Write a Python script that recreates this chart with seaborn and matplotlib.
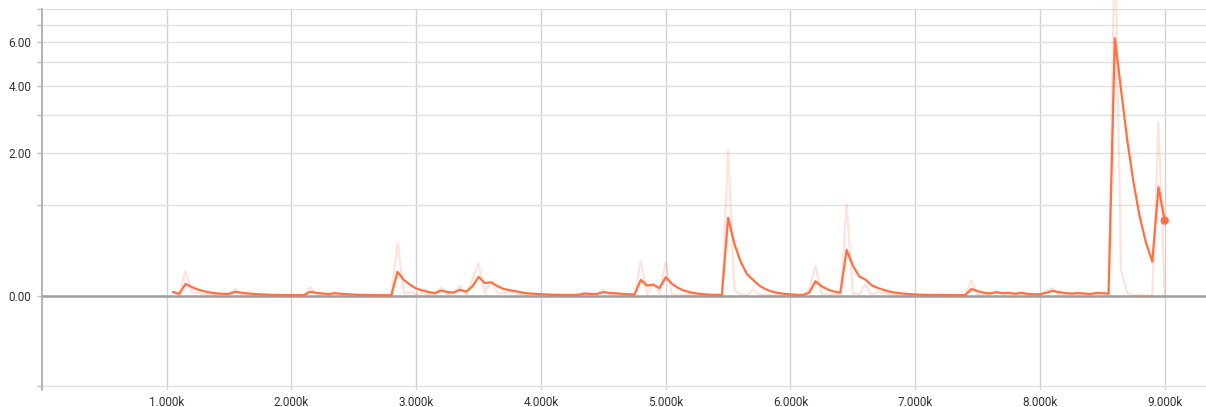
import numpy as np
import matplotlib
matplotlib.use("Agg")
import matplotlib.pyplot as plt
import seaborn as sns

# training steps, one point every 50 steps
steps = list(range(1050, 9001, 50))

# raw scalar values (pale line)
raw = [
    # 1050 - 1950
    0.03, 0.0, 0.21, 0.03, 0.02, 0.015, 0.01, 0.008, 0.01, 0.015,
    0.055, 0.01, 0.01, 0.008, 0.006, 0.005, 0.005, 0.004, 0.004,
    # 2000 - 2950
    0.004, 0.004, 0.005, 0.07, 0.01, 0.008, 0.01, 0.03, 0.008, 0.006,
    0.005, 0.005, 0.004, 0.004, 0.004, 0.004, 0.004, 0.50, 0.02, 0.03,
    # 3000 - 3950
    0.01, 0.02, 0.01, 0.01, 0.07, 0.01, 0.02, 0.08, 0.01, 0.14,
    0.28, 0.02, 0.12, 0.03, 0.02, 0.03, 0.02, 0.01, 0.01, 0.008,
    # 4000 - 4950
    0.008, 0.006, 0.006, 0.006, 0.005, 0.006, 0.01, 0.03, 0.01, 0.015,
    0.05, 0.01, 0.015, 0.01, 0.008, 0.006, 0.31, 0.01, 0.10, 0.02,
    # 5000 - 5950
    0.29, 0.01, 0.008, 0.006, 0.006, 0.005, 0.004, 0.004, 0.004, 0.004,
    2.04, 0.04, 0.01, 0.005, 0.05, 0.01, 0.005, 0.005, 0.005, 0.005,
    # 6000 - 6950
    0.005, 0.004, 0.004, 0.05, 0.26, 0.01, 0.01, 0.01, 0.01, 1.02,
    0.02, 0.01, 0.09, 0.01, 0.03, 0.02, 0.01, 0.01, 0.008, 0.006,
    # 7000 - 7950
    0.005, 0.005, 0.005, 0.006, 0.005, 0.005, 0.005, 0.005, 0.005, 0.125,
    0.01, 0.005, 0.01, 0.04, 0.01, 0.025, 0.008, 0.03, 0.005, 0.008,
    # 8000 - 9000
    0.01, 0.04, 0.06, 0.015, 0.01, 0.01, 0.025, 0.015, 0.008, 0.03,
    0.02, 0.01, 15.5, 0.21, 0.02, 0.005, 0.004, 0.004, 0.004, 2.79,
    0.0,
]

# smoothed values (solid line)
smoothed = [
    # 1050 - 1950
    0.03, 0.015, 0.095, 0.069, 0.049, 0.035, 0.025, 0.018, 0.015, 0.015,
    0.031, 0.023, 0.018, 0.014, 0.011, 0.009, 0.007, 0.006, 0.005,
    # 2000 - 2950
    0.005, 0.005, 0.005, 0.031, 0.023, 0.017, 0.014, 0.020, 0.015, 0.012,
    0.009, 0.007, 0.006, 0.005, 0.005, 0.004, 0.004, 0.202, 0.129, 0.089,
    # 3000 - 3950
    0.057, 0.042, 0.029, 0.021, 0.041, 0.029, 0.025, 0.047, 0.032, 0.075,
    0.157, 0.102, 0.109, 0.077, 0.054, 0.044, 0.035, 0.025, 0.019, 0.015,
    # 4000 - 4950
    0.012, 0.010, 0.008, 0.007, 0.006, 0.006, 0.008, 0.017, 0.014, 0.014,
    0.029, 0.021, 0.019, 0.015, 0.012, 0.010, 0.130, 0.082, 0.089, 0.061,
    # 5000 - 5950
    0.153, 0.096, 0.061, 0.039, 0.026, 0.018, 0.012, 0.009, 0.007, 0.006,
    0.82, 0.49, 0.30, 0.182, 0.130, 0.082, 0.052, 0.033, 0.022, 0.015,
    # 6000 - 6950
    0.011, 0.008, 0.006, 0.024, 0.118, 0.075, 0.049, 0.033, 0.024, 0.422,
    0.261, 0.161, 0.133, 0.084, 0.062, 0.045, 0.031, 0.023, 0.017, 0.013,
    # 7000 - 7950
    0.010, 0.008, 0.007, 0.007, 0.006, 0.006, 0.005, 0.005, 0.005, 0.053,
    0.036, 0.024, 0.018, 0.027, 0.020, 0.022, 0.016, 0.022, 0.015, 0.012,
    # 8000 - 9000
    0.011, 0.023, 0.038, 0.029, 0.021, 0.017, 0.020, 0.018, 0.014, 0.020,
    0.020, 0.016, 6.21, 3.85, 2.29, 1.38, 0.83, 0.50, 0.30, 1.30,
    0.78,
]

x_ticks = list(range(1000, 9001, 1000))
y_ticks = [-1, 0, 1, 2, 3, 4, 5, 6, 7, 8]
y_labeled = [0, 2, 4, 6]

line_color = "#ff7043"


def fwd(v):
    v = np.asarray(v, dtype=float)
    return np.sign(v) * np.log1p(np.abs(v))


def inv(v):
    v = np.asarray(v, dtype=float)
    return np.sign(v) * np.expm1(np.abs(v))


sns.set_theme(style="whitegrid")
plt.rcParams["font.family"] = ["Roboto", "DejaVu Sans"]

fig = plt.figure(figsize=(12.06, 4.07), dpi=100)
ax = fig.add_axes([42 / 1206, 17 / 407, (1206 - 42) / 1206, (390 - 9.3) / 407])

ax.set_yscale("function", functions=(fwd, inv))

# raw values, pale
sns.lineplot(x=steps, y=raw, color=line_color, alpha=0.2, linewidth=1.5,
             estimator=None, ax=ax)
ax.lines[-1].set_clip_on(False)

# smoothed values
sns.lineplot(x=steps, y=smoothed, color=line_color, linewidth=1.6,
             estimator=None, ax=ax)
sns.scatterplot(x=[steps[-1]], y=[smoothed[-1]], color=line_color, s=36,
                edgecolor="none", ax=ax, zorder=5)

ax.axhline(0, color="#9e9e9e", linewidth=1.8, zorder=1)

ax.set_xlim(0, 9331)
ax.set_ylim(-1.06, 8.0)

ax.set_xticks(x_ticks)
ax.set_xticklabels([f"{t / 1000:.3f}k" for t in x_ticks])
ax.set_yticks(y_ticks)
ax.set_yticklabels([f"{t:.2f}" if t in y_labeled else "" for t in y_ticks])
ax.minorticks_off()

ax.tick_params(axis="y", length=3.5, width=1, color="#bdbdbd", pad=4,
               labelsize=8.5, labelcolor="#333333", left=True)
ax.tick_params(axis="x", length=0, pad=4, labelsize=8.5, labelcolor="#333333")

ax.grid(axis="y", color="#e0e0e0", linewidth=1.0)
ax.grid(axis="x", color="#d2d2d2", linewidth=1.0)

for side in ["top", "right", "bottom"]:
    ax.spines[side].set_visible(False)
ax.spines["left"].set_color("#b0b0b0")
ax.spines["left"].set_linewidth(1.3)

ax.set_xlabel("")
ax.set_ylabel("")

fig.savefig("out.png", dpi=100)
